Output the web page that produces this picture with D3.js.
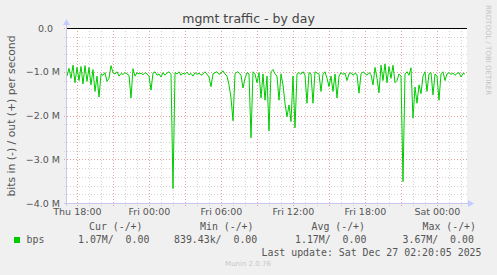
<!DOCTYPE html>
<html>
<head>
<meta charset="utf-8">
<script src="https://cdn.jsdelivr.net/npm/d3@7"></script>
<style>
  body { margin: 0; background: #f0f0f0; }
  svg { display: block; font-family: "DejaVu Sans", sans-serif; }
  .mono { font-family: "DejaVu Sans Mono", monospace; }
</style>
</head>
<body>
<div id="chart"></div>
<script>
// traffic in (drawn negative), one reading every 10 minutes, in Mbit/s
var startTime = Date.UTC(2025, 11, 25, 17, 8);
var endTime = Date.UTC(2025, 11, 27, 2, 28);
var stepMinutes = 10;
var bitsIn = [
  -1.10, -0.92, -1.15, -0.85, -1.25, -0.90, -1.20, -0.88, -1.28, -0.86,
  -1.22, -0.90, -1.30, -0.95, -1.45, -1.10, -1.58, -1.05, -1.08, -1.02,
  -1.22, -1.15, -0.86, -1.02, -1.05, -1.00, -1.10, -1.04, -1.06, -1.02,
  -1.05, -1.08, -1.60, -0.93, -1.10, -1.02, -1.05, -1.03, -1.07, -1.02,
  -1.05, -1.10, -1.42, -1.03, -1.00, -1.08, -1.05, -1.12, -1.02, -1.08,
  -1.03, -1.00, -1.06, -3.67, -1.02, -1.05, -1.00, -1.08, -1.03, -1.06,
  -1.01, -1.07, -1.04, -1.10, -1.02, -1.06, -1.03, -1.08, -1.05, -1.00,
  -1.06, -1.12, -1.34, -1.05, -1.02, -1.00, -1.06, -1.03, -0.98, -1.05,
  -1.10, -1.30, -1.60, -2.12, -1.05, -1.00, -1.02, -1.08, -1.37, -1.15,
  -1.02, -1.05, -2.51, -1.00, -1.05, -1.25, -1.02, -1.60, -1.05, -1.65,
  -1.10, -2.35, -1.00, -0.95, -1.05, -1.10, -1.65, -1.05, -1.30, -1.72,
  -2.03, -1.76, -2.14, -1.10, -2.28, -1.05, -1.02, -1.06, -1.00, -1.08,
  -1.72, -1.02, -1.05, -1.72, -1.00, -1.03, -1.05, -1.45, -1.05, -1.00,
  -1.15, -1.34, -1.10, -1.45, -1.05, -1.60, -1.10, -1.02, -1.06, -1.03,
  -1.20, -1.05, -1.02, -1.08, -1.04, -1.06, -1.49, -1.05, -1.00, -1.04,
  -1.08, -1.02, -1.06, -1.30, -0.90, -1.15, -1.48, -0.85, -1.20, -0.82,
  -1.25, -0.88, -1.15, -0.85, -1.25, -1.20, -1.05, -1.10, -3.51, -1.05,
  -1.00, -1.08, -0.91, -2.06, -1.35, -1.72, -1.30, -1.50, -1.10, -1.00,
  -1.45, -1.05, -1.02, -1.53, -1.05, -1.10, -1.65, -1.05, -1.00, -1.20,
  -1.05, -1.02, -1.06, -1.03, -1.08, -1.04, -1.02, -1.12, -1.04, -1.05
];

var legendHeaders = ["Cur (-/+)", "Min (-/+)", "Avg (-/+)", "Max (-/+)"];
var legendValues = ["1.07M/  0.00", "839.43k/  0.00", "1.17M/  0.00", "3.67M/  0.00"];
var seriesName = "bps";
var lastUpdate = "Last update: Sat Dec 27 02:20:05 2025";

var width = 497, height = 275;
var plotLeft = 67, plotRight = 467, plotTop = 28, plotBottom = 203;

var data = bitsIn.map(function(v, i) {
  return { t: new Date(startTime + i * stepMinutes * 60000), v: v };
});

var x = d3.scaleUtc().domain([startTime, endTime]).range([plotLeft, plotRight]);
var y = d3.scaleLinear().domain([-4, 0]).range([plotBottom, plotTop]);

var svg = d3.select("#chart").append("svg")
    .attr("width", width)
    .attr("height", height);

svg.append("rect")
    .attr("x", plotLeft).attr("y", plotTop)
    .attr("width", plotRight - plotLeft).attr("height", plotBottom - plotTop)
    .attr("fill", "#fff");

// grid
var minorX = x.ticks(d3.utcHour.every(1));
var majorX = x.ticks(d3.utcHour.every(3));
var minorY = y.ticks(20);
var majorY = y.ticks(4);

svg.append("g").selectAll("line").data(minorX).enter().append("line")
    .attr("x1", function(d){ return Math.round(x(d)) + 0.5; })
    .attr("x2", function(d){ return Math.round(x(d)) + 0.5; })
    .attr("y1", plotTop).attr("y2", plotBottom + 3)
    .attr("stroke", "#d4d4d4").attr("stroke-dasharray", "1,2");
svg.append("g").selectAll("line").data(minorY).enter().append("line")
    .attr("x1", plotLeft - 3).attr("x2", plotRight)
    .attr("y1", function(d){ return Math.round(y(d)) + 0.5; })
    .attr("y2", function(d){ return Math.round(y(d)) + 0.5; })
    .attr("stroke", "#d4d4d4").attr("stroke-dasharray", "1,2");
svg.append("g").selectAll("line").data(majorX).enter().append("line")
    .attr("x1", function(d){ return Math.round(x(d)) + 0.5; })
    .attr("x2", function(d){ return Math.round(x(d)) + 0.5; })
    .attr("y1", plotTop).attr("y2", plotBottom + 3)
    .attr("stroke", "#e8a0a0").attr("stroke-dasharray", "1,2");
svg.append("g").selectAll("line").data(majorY).enter().append("line")
    .attr("x1", plotLeft - 3).attr("x2", plotRight)
    .attr("y1", function(d){ return Math.round(y(d)) + 0.5; })
    .attr("y2", function(d){ return Math.round(y(d)) + 0.5; })
    .attr("stroke", "#e8a0a0").attr("stroke-dasharray", "1,2");

// zero line
svg.append("line")
    .attr("x1", plotLeft).attr("x2", plotRight)
    .attr("y1", y(0) + 0.5).attr("y2", y(0) + 0.5)
    .attr("stroke", "#000");

// the series
var line = d3.line()
    .x(function(d){ return x(d.t); })
    .y(function(d){ return y(d.v); });
svg.append("path")
    .datum(data)
    .attr("d", line)
    .attr("fill", "none")
    .attr("stroke", "#00cc00")
    .attr("stroke-width", 1);

// axes
svg.append("line")
    .attr("x1", plotLeft - 0.5).attr("x2", plotLeft - 0.5)
    .attr("y1", plotBottom + 3).attr("y2", plotTop - 4)
    .attr("stroke", "#c8c8ee");
svg.append("path")
    .attr("d", "M" + (plotLeft - 4) + "," + (plotTop - 3) + "L" + (plotLeft - 0.5) + "," + (plotTop - 9) + "L" + (plotLeft + 3) + "," + (plotTop - 3) + "Z")
    .attr("fill", "#c4ccff");
svg.append("line")
    .attr("x1", plotLeft - 3).attr("x2", plotRight + 2)
    .attr("y1", plotBottom + 0.5).attr("y2", plotBottom + 0.5)
    .attr("stroke", "#c8c8ee");
svg.append("path")
    .attr("d", "M" + (plotRight + 1) + "," + (plotBottom - 3) + "L" + (plotRight + 7) + "," + (plotBottom + 0.5) + "L" + (plotRight + 1) + "," + (plotBottom + 4) + "Z")
    .attr("fill", "#c4ccff");

// y labels
svg.append("g").selectAll("text").data(majorY).enter().append("text")
    .attr("x", function(d){ return d === 0 ? plotLeft - 14 : plotLeft - 7; })
    .attr("y", function(d){ return y(d) + 3.5; })
    .attr("text-anchor", "end")
    .attr("font-size", "9.5px")
    .attr("fill", "#555")
    .text(function(d){ return d === 0 ? "0.0" : d3.format(".1f")(d) + " M"; });

// x labels
var labelTimes = x.ticks(d3.utcHour.every(6));
svg.append("g").selectAll("text").data(labelTimes).enter().append("text")
    .attr("x", function(d){ return x(d); })
    .attr("y", plotBottom + 12)
    .attr("text-anchor", "middle")
    .attr("font-size", "9.5px")
    .attr("fill", "#555")
    .text(function(d){ return d3.utcFormat("%a %H:%M")(d); });

// title
svg.append("text")
    .attr("x", width / 2).attr("y", 23)
    .attr("text-anchor", "middle")
    .attr("font-size", "12.5px")
    .attr("fill", "#444")
    .text("mgmt traffic - by day");

// y axis title
svg.append("text")
    .attr("transform", "translate(15," + ((plotTop + plotBottom) / 2 + 0.5) + ") rotate(-90)")
    .attr("text-anchor", "middle")
    .attr("font-size", "10.8px")
    .attr("fill", "#555")
    .text("bits in (-) / out (+) per second");

// watermark
svg.append("text")
    .attr("transform", "translate(486,5) rotate(90)")
    .attr("text-anchor", "start")
    .attr("font-size", "7px")
    .attr("fill", "#c4c4c4")
    .text("RRDTOOL / TOBI OETIKER");

// legend
var headerX = [89, 200, 311.5, 422.5];
var valueX = [78, 174, 295, 402.5];
svg.append("g").selectAll("text").data(legendHeaders).enter().append("text")
    .attr("class", "mono")
    .attr("x", function(d, i){ return headerX[i]; })
    .attr("y", 230)
    .attr("font-size", "9.9px")
    .attr("fill", "#555")
    .attr("xml:space", "preserve")
    .text(function(d){ return d; });
svg.append("rect")
    .attr("x", 14).attr("y", 237).attr("width", 6).attr("height", 6)
    .attr("fill", "#00cc00");
svg.append("text")
    .attr("class", "mono")
    .attr("x", 26.5).attr("y", 243)
    .attr("font-size", "9.9px")
    .attr("fill", "#555")
    .text(seriesName);
svg.append("g").selectAll("text").data(legendValues).enter().append("text")
    .attr("class", "mono")
    .attr("x", function(d, i){ return valueX[i]; })
    .attr("y", 243)
    .attr("font-size", "9.9px")
    .attr("fill", "#555")
    .attr("xml:space", "preserve")
    .text(function(d){ return d; });
svg.append("text")
    .attr("class", "mono")
    .attr("x", 261.5).attr("y", 255.5)
    .attr("font-size", "9.9px")
    .attr("fill", "#555")
    .attr("xml:space", "preserve")
    .text(lastUpdate);
svg.append("text")
    .attr("x", 248).attr("y", 266)
    .attr("text-anchor", "middle")
    .attr("font-size", "7px")
    .attr("fill", "#c8c8c8")
    .text("Munin 2.0.76");
</script>
</body>
</html>
